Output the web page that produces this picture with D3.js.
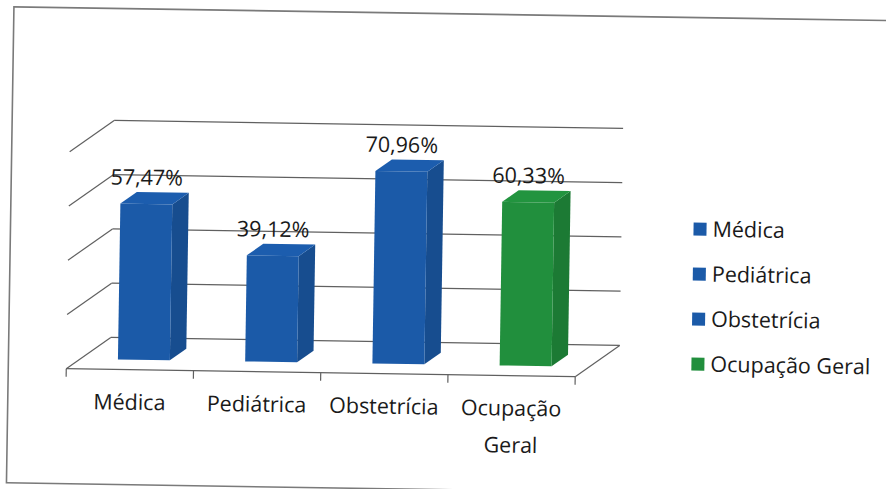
<!DOCTYPE html>
<html>
<head>
<meta charset="utf-8">
<script src="https://cdn.jsdelivr.net/npm/d3@7/dist/d3.min.js"></script>
<style>
    body { margin: 0; background: #fff; overflow: hidden; }
    svg { display: block; }
    text { font-family: "Open Sans", sans-serif; fill: #1a1a1a; }
</style>
</head>
<body>
<div id="chart"></div>
<script>
var categories = ["Médica", "Pediátrica", "Obstetrícia", "Ocupação Geral"];
var values = [57.47, 39.12, 70.96, 60.33];
var labelLines = [["Médica"], ["Pediátrica"], ["Obstetrícia"], ["Ocupação", "Geral"]];
var barColors = ["#1b5aa8", "#1b5aa8", "#1b5aa8", "#218f3d"];
var gridValues = [0, 20, 40, 60, 80];

var width = 886, height = 489,
    front_y = 373,           // front edge of the floor
    depth = [44, -32],       // oblique offset front -> back
    f0 = 0.315, f1 = 0.685,  // bar depth inside the floor
    fmt = d3.formatLocale({decimal: ",", thousands: ".", grouping: [3], currency: ["", ""]}).format(".2f");

var svg = d3.select("#chart").append("svg")
    .attr("width", width)
    .attr("height", height);

// the reference is a slightly tilted scan
var g = svg.append("g").attr("transform", "rotate(0.9,340,260)");

// frame, right edge falls outside the picture
g.append("rect")
    .attr("x", 10).attr("y", 12)
    .attr("width", 1000).attr("height", 476)
    .attr("fill", "none")
    .attr("stroke", "#7a7a7a")
    .attr("stroke-width", 1.6);

var x = d3.scaleBand()
    .domain(categories)
    .range([68, 577]);

var y = d3.scaleLinear()
    .domain([0, 80])
    .range([0, -217]);

function proj(xf, v, f) {
    return [xf + f * depth[0], front_y + f * depth[1] + y(v)];
}

var bw = x.bandwidth() / 2.45;

// back wall gridlines + left wall lines
var grid = g.append("g").attr("class", "grid");
gridValues.forEach(function(v) {
    var b0 = proj(x.range()[0], v, 1), b1 = proj(x.range()[1], v, 1), a0 = proj(x.range()[0], v, 0);
    grid.append("line")
        .attr("x1", b0[0]).attr("y1", b0[1]).attr("x2", b1[0]).attr("y2", b1[1]);
    grid.append("line")
        .attr("x1", a0[0]).attr("y1", a0[1]).attr("x2", b0[0]).attr("y2", b0[1]);
});
var fr0 = proj(x.range()[0], 0, 0), fr1 = proj(x.range()[1], 0, 0), br1 = proj(x.range()[1], 0, 1);
grid.append("line").attr("x1", fr0[0]).attr("y1", fr0[1]).attr("x2", fr1[0]).attr("y2", fr1[1]);
grid.append("line").attr("x1", fr1[0]).attr("y1", fr1[1]).attr("x2", br1[0]).attr("y2", br1[1]);
grid.selectAll("line")
    .attr("stroke", "#606060")
    .attr("stroke-width", 1.2);

// category ticks on the front edge
var tickPos = categories.map(function(c) { return x(c); }).concat([x.range()[1]]);
grid.selectAll(".tick").data(tickPos).enter().append("line")
    .attr("class", "tick")
    .attr("x1", function(d) { return d; }).attr("x2", function(d) { return d; })
    .attr("y1", front_y).attr("y2", front_y + 8)
    .attr("stroke", "#606060")
    .attr("stroke-width", 1.2);

// bars
var data = categories.map(function(c, i) { return {cat: c, value: values[i], color: barColors[i]}; });

var bars = g.selectAll(".bar").data(data).enter().append("g").attr("class", "bar");

bars.append("polygon")
    .attr("points", function(d) {
        var x0 = x(d.cat) + (x.bandwidth() - bw) / 2;
        return [proj(x0 + bw, 0, f0), proj(x0 + bw, d.value, f0), proj(x0 + bw, d.value, f1), proj(x0 + bw, 0, f1)].join(" ");
    })
    .attr("fill", function(d) { return d3.color(d.color).darker(0.45); });

bars.append("polygon")
    .attr("points", function(d) {
        var x0 = x(d.cat) + (x.bandwidth() - bw) / 2;
        return [proj(x0, d.value, f0), proj(x0 + bw, d.value, f0), proj(x0 + bw, d.value, f1), proj(x0, d.value, f1)].join(" ");
    })
    .attr("fill", function(d) { return d3.color(d.color).brighter(0.1); });

bars.append("polygon")
    .attr("points", function(d) {
        var x0 = x(d.cat) + (x.bandwidth() - bw) / 2;
        return [proj(x0, 0, f0), proj(x0 + bw, 0, f0), proj(x0 + bw, d.value, f0), proj(x0, d.value, f0)].join(" ");
    })
    .attr("fill", function(d) { return d.color; });

// data labels
bars.append("text")
    .attr("text-anchor", "middle")
    .attr("font-size", "21.5px")
    .attr("x", function(d) { return proj(x(d.cat) + x.bandwidth() / 2, d.value, f0)[0]; })
    .attr("y", function(d) { return proj(0, d.value, f0)[1] - 19; })
    .text(function(d) { return fmt(d.value) + "%"; });

// category labels
var labels = g.selectAll(".cat").data(categories).enter().append("text")
    .attr("class", "cat")
    .attr("text-anchor", "middle")
    .attr("font-size", "21.5px")
    .attr("y", front_y + 40);

labels.selectAll("tspan")
    .data(function(d, i) { return labelLines[i]; })
    .enter().append("tspan")
    .attr("x", function() { var c = d3.select(this.parentNode).datum(); return x(c) + x.bandwidth() / 2; })
    .attr("dy", function(d, i) { return i ? 37 : 0; })
    .text(function(d) { return d; });

// legend
var legend = g.selectAll(".legend").data(data).enter().append("g")
    .attr("class", "legend")
    .attr("transform", function(d, i) { return "translate(712," + (231 + i * 45) + ")"; });

legend.append("rect")
    .attr("x", -19).attr("y", -14)
    .attr("width", 13).attr("height", 13)
    .attr("fill", function(d) { return d.color; });

legend.append("text")
    .attr("font-size", "21.5px")
    .text(function(d) { return d.cat; });
</script>
</body>
</html>
